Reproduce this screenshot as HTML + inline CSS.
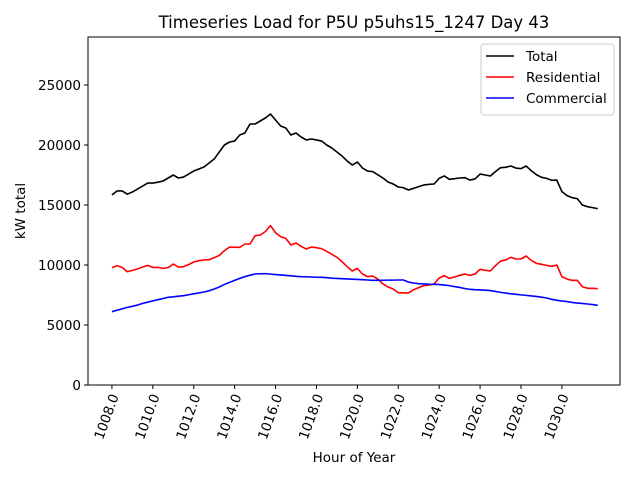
<!DOCTYPE html>
<html><head><meta charset="utf-8"><style>
html,body{margin:0;padding:0;background:#fff;}
svg{display:block;font-family:"DejaVu Sans","Liberation Sans",sans-serif;}
</style></head><body>
<svg id="chart" width="640" height="480" viewBox="0 0 640 480"></svg>
<script>
const startHour = 1008;
const stepHours = 0.25;
const totalLoad = [15830,16170,16170,15900,16080,16330,16580,16830,16830,16900,17000,17250,17500,17250,17330,17580,17830,18000,18170,18500,18830,19420,20000,20250,20330,20830,21000,21750,21750,22000,22250,22580,22080,21580,21420,20830,21000,20670,20420,20500,20420,20330,20000,19750,19420,19080,18670,18330,18580,
18080,17830,17780,17520,17250,16920,16750,16500,16440,16250,16390,16530,16670,16720,16750,17220,17420,17140,17190,17250,17280,17080,17170,17580,17500,17420,17780,18110,18140,18250,18080,18030,18250,17860,17530,17310,17220,17060,17080,16110,15780,15610,15530,15000,14860,14780,14690];
const residentialLoad = [9780,9940,9800,9440,9550,9670,9830,9970,9800,9800,9720,9780,10080,9830,9860,10030,10250,10360,10420,10440,10610,10800,11190,11500,11470,11470,11750,11750,12440,12500,12780,13280,12690,12360,12220,11670,11830,11560,11330,11500,11440,11360,11140,10890,10640,10280,9860,9500,9720,
9250,9030,9080,8830,8420,8170,8000,7690,7670,7670,7940,8110,8280,8330,8420,8920,9110,8890,9000,9140,9250,9140,9250,9640,9560,9500,9940,10330,10420,10640,10500,10500,10750,10390,10140,10060,9970,9890,10000,9030,8830,8720,8720,8190,8060,8060,8030];
const commercialLoad = [6110,6230,6350,6470,6560,6660,6800,6900,7010,7110,7210,7310,7350,7400,7440,7520,7600,7670,7750,7850,8000,8170,8380,8550,8720,8890,9030,9150,9250,9270,9280,9240,9200,9170,9130,9100,9060,9030,9020,9000,8980,8970,8940,8900,8880,8860,8840,8820,8800,
8780,8750,8720,8720,8730,8740,8740,8750,8750,8570,8500,8440,8420,8400,8390,8370,8330,8280,8200,8130,8040,7970,7940,7920,7900,7870,7800,7720,7660,7600,7560,7510,7470,7420,7380,7320,7250,7140,7060,7000,6950,6880,6830,6800,6750,6700,6640];
const xTicks = [1008,1010,1012,1014,1016,1018,1020,1022,1024,1026,1028,1030];
const yTicks = [0,5000,10000,15000,20000,25000];

const NS = "http://www.w3.org/2000/svg";
const svg = document.getElementById('chart');
const L=88, R=620, T=37, B=385;
const xMin=1006.83, xMax=1032.84, yMin=0, yMax=29000;
function xs(v){return L+(v-xMin)/(xMax-xMin)*(R-L);}
function ys(v){return B-(v-yMin)/(yMax-yMin)*(B-T);}
function mk(tag, attrs, parent){const e=document.createElementNS(NS,tag);for(const k in attrs)e.setAttribute(k,attrs[k]);(parent||svg).appendChild(e);return e;}

const title = mk('text',{x:354,y:28,'text-anchor':'middle','font-size':'16.5'});
title.textContent='Timeseries Load for P5U p5uhs15_1247  Day 43';



const frame = mk('rect',{x:L,y:T,width:R-L,height:B-T,fill:'none',stroke:'#000','stroke-width':1});



yTicks.forEach(v=>{
  const y=ys(v);
  const t=mk('line',{x1:L-4,x2:L,y1:y,y2:y,stroke:'#000'});
  
  
  const l=mk('text',{x:L-7,y:y+5,'text-anchor':'end','font-size':'13.5'});
  l.textContent=String(v);
  
  
});
xTicks.forEach(v=>{
  const x=xs(v);
  const t=mk('line',{x1:x,x2:x,y1:B,y2:B+4,stroke:'#000'});
  
  
  const l=mk('text',{x:0,y:0,'text-anchor':'end','font-size':'13.5',transform:`translate(${x+7},${B+11}) rotate(-70)`});
  l.textContent=v.toFixed(1);
  
  
});

const xl=mk('text',{x:354,y:462,'text-anchor':'middle','font-size':'13.5'});
xl.textContent='Hour of Year';


const yl=mk('text',{x:0,y:0,'text-anchor':'middle','font-size':'13.5',transform:`translate(25,${(T+B)/2}) rotate(-90)`});
yl.textContent='kW total';



function series(arr,color,name){
  const pts=arr.map((v,i)=>xs(startHour+i*stepHours).toFixed(2)+','+ys(v).toFixed(2)).join(' ');
  const p=mk('polyline',{points:pts,fill:'none',stroke:color,'stroke-width':1.6,'stroke-linejoin':'round'});
  
  
}
series(totalLoad,'#000','total-line');
series(residentialLoad,'#ff0000','residential-line');
series(commercialLoad,'#0000ff','commercial-line');

const lg=mk('g',{});


mk('rect',{x:481,y:44,width:133,height:71,rx:3,fill:'#fff','fill-opacity':0.8,stroke:'#ccc'},lg);
[['Total','#000',56],['Residential','#ff0000',77],['Commercial','#0000ff',98]].forEach(([n,c,y])=>{
  const g=mk('g',{},lg);
  
  
  mk('line',{x1:486,x2:514,y1:y,y2:y,stroke:c,'stroke-width':1.6},g);
  const t=mk('text',{x:526,y:y+5,'font-size':'13.5'},g);
  t.textContent=n;
});
</script>
</body></html>
